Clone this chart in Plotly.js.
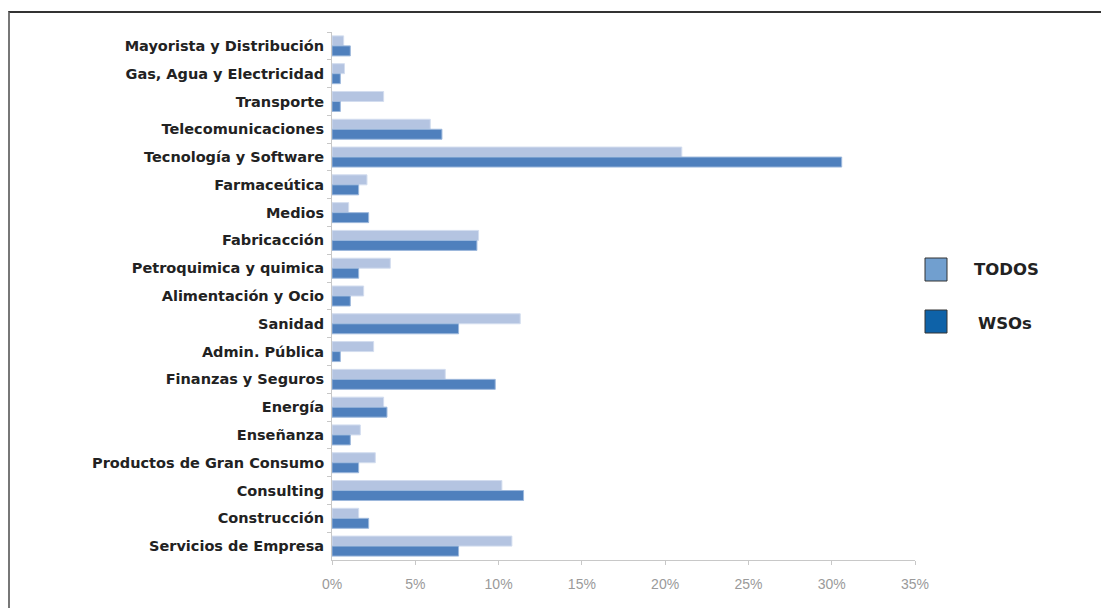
<!DOCTYPE html>
<html>
<head>
<meta charset="utf-8">
<script src="https://cdn.plot.ly/plotly-3.0.1.min.js"></script>
<style>
html,body{margin:0;padding:0;background:#fff;}
#chart{position:absolute;left:0;top:0;width:1101px;height:608px;}
#frame{position:absolute;left:8px;top:11px;width:1093px;height:597px;border-top:2px solid #333;border-left:2px solid #777;box-sizing:border-box;pointer-events:none;}
</style>
</head>
<body>
<div id="chart"></div>
<div id="frame"></div>
<script>
const categories = [
  "Mayorista y Distribución",
  "Gas, Agua y Electricidad",
  "Transporte",
  "Telecomunicaciones",
  "Tecnología y Software",
  "Farmaceútica",
  "Medios",
  "Fabricacción",
  "Petroquimica y quimica",
  "Alimentación y Ocio",
  "Sanidad",
  "Admin. Pública",
  "Finanzas y Seguros",
  "Energía",
  "Enseñanza",
  "Productos de Gran Consumo",
  "Consulting",
  "Construcción",
  "Servicios de Empresa"
];
const todos = [0.7, 0.75, 3.1, 5.9, 21.0, 2.1, 1.0, 8.8, 3.5, 1.9, 11.3, 2.5, 6.8, 3.1, 1.7, 2.6, 10.2, 1.6, 10.8];
const wsos  = [1.1, 0.5, 0.5, 6.6, 30.6, 1.6, 2.2, 8.7, 1.6, 1.1, 7.6, 0.5, 9.8, 3.3, 1.1, 1.6, 11.5, 2.2, 7.6];
const xTickVals = [0, 5, 10, 15, 20, 25, 30, 35];
const xTickText = ["0%", "5%", "10%", "15%", "20%", "25%", "30%", "35%"];
const seriesNames = ["TODOS", "WSOs"];

const labelFont = "DejaVu Sans, Liberation Sans, Arial, sans-serif";

const traces = [
  {type:"bar", orientation:"h", name:seriesNames[0], y:categories, x:todos,
   marker:{color:"#b4c4e1", line:{color:"#d3ddef", width:1}}, hoverinfo:"x+y"},
  {type:"bar", orientation:"h", name:seriesNames[1], y:categories, x:wsos,
   marker:{color:"#4f80bd", line:{color:"#9db8dc", width:1}}, hoverinfo:"x+y"}
];

const layout = {
  width:1101, height:608,
  margin:{l:332, r:186, t:32, b:48},
  paper_bgcolor:"#fff", plot_bgcolor:"#fff",
  barmode:"group", bargap:0.28, bargroupgap:0,
  showlegend:false,
  font:{family:"Liberation Sans, Arial, sans-serif"},
  xaxis:{range:[0,35], tickvals:xTickVals, ticktext:xTickText,
    showgrid:false, zeroline:false, showline:true, linecolor:"#c8c8c8", linewidth:1,
    ticks:"outside", ticklen:4, tickcolor:"#c8c8c8",
    tickfont:{size:14, color:"#9a9a9a", family:"Liberation Sans, Arial, sans-serif"},
    ticklabelstandoff:7, fixedrange:true},
  yaxis:{type:"category", categoryorder:"array", categoryarray:categories, autorange:"reversed",
    showgrid:false, zeroline:false, showline:true, linecolor:"#c8c8c8", linewidth:1,
    ticks:"outside", ticklen:4, tickcolor:"#c8c8c8", tickson:"boundaries",
    tickfont:{size:14.5, color:"#222", family:labelFont, weight:"bold"},
    ticklabelstandoff:4, fixedrange:true},
  shapes:[
    {type:"rect", xref:"paper", yref:"paper", x0:(925-332)/583, x1:(947-332)/583, y0:(560-281)/528, y1:(560-258)/528,
     fillcolor:"#719fcf", line:{color:"#333", width:1}},
    {type:"rect", xref:"paper", yref:"paper", x0:(925-332)/583, x1:(947-332)/583, y0:(560-333)/528, y1:(560-310)/528,
     fillcolor:"#0e62a8", line:{color:"#333", width:1}}
  ],
  annotations:[
    {xref:"paper", yref:"paper", x:(1006-332)/583, y:(560-269)/528, text:"<b>TODOS</b>", showarrow:false,
     font:{size:16.5, color:"#222", family:labelFont}, xanchor:"center", yanchor:"middle"},
    {xref:"paper", yref:"paper", x:(1005-332)/583, y:(560-323)/528, text:"<b>WSOs</b>", showarrow:false,
     font:{size:16.5, color:"#222", family:labelFont}, xanchor:"center", yanchor:"middle"}
  ]
};

Plotly.newPlot("chart", traces, layout, {displayModeBar:false, staticPlot:true});
</script>
</body>
</html>
